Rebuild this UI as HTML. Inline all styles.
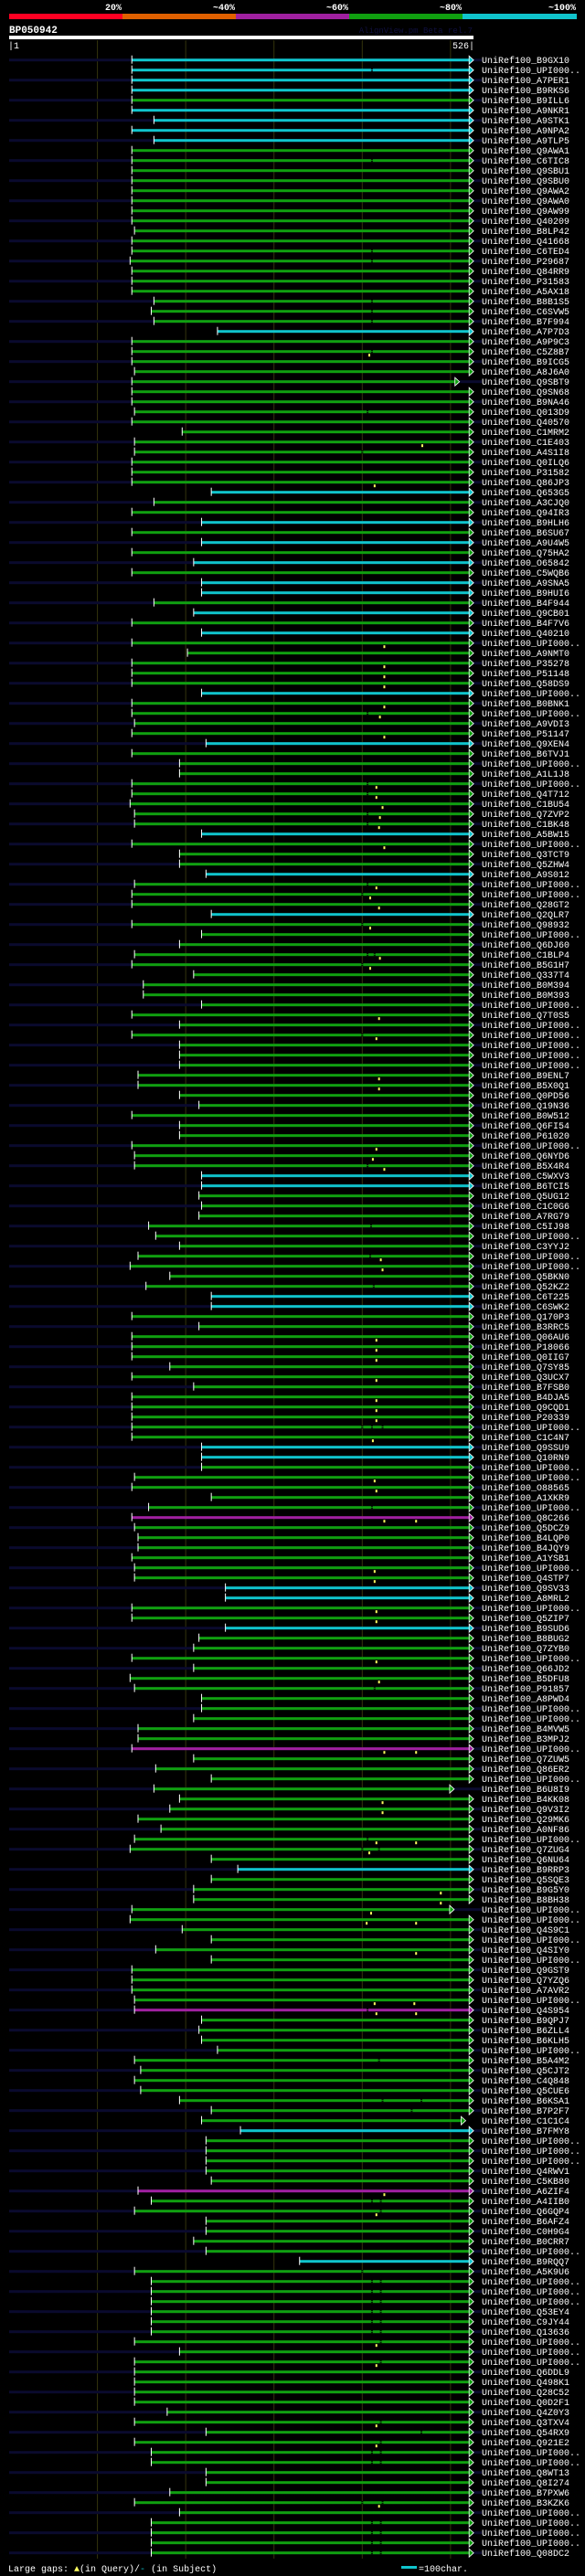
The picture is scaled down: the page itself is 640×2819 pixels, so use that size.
<!DOCTYPE html>
<html><head><meta charset="utf-8"><title>BP050942 alignment</title>
<style>
html,body{margin:0;padding:0;background:#000;}
body{width:640px;height:2819px;overflow:hidden;}
svg{display:block;}
text{font-family:"Liberation Mono",monospace;}
</style></head>
<body>
<svg id="chart" width="640" height="2819" viewBox="0 0 640 2819" xmlns="http://www.w3.org/2000/svg">
  <rect x="0" y="0" width="640" height="2819" fill="#000"/>
  <g>
    <rect x="10" y="15" width="124" height="6" fill="#ff0022"/>
    <rect x="134" y="15" width="124" height="6" fill="#e06000"/>
    <rect x="258" y="15" width="124" height="6" fill="#a020a0"/>
    <rect x="382" y="15" width="124" height="6" fill="#10a010"/>
    <rect x="506" y="15" width="125" height="6" fill="#10c4cc"/>
    <g font-size="10" font-weight="bold" fill="#fff" text-anchor="end">
      <text x="133" y="11">20%</text>
      <text x="257" y="11">~40%</text>
      <text x="381" y="11">~60%</text>
      <text x="505" y="11">~80%</text>
      <text x="630" y="11">~100%</text>
    </g>
  </g>
  <text x="10" y="36" font-size="11" font-weight="bold" fill="#fff">BP050942</text>
  <text x="517" y="36" font-size="9" fill="#101040" text-anchor="end">AlignView.pm Beta rel.7</text>
  <rect x="10" y="39" width="508" height="4" fill="#fff"/>
  <text x="9" y="53" font-size="10" fill="#fff">|1</text>
  <text x="519" y="53" font-size="10" fill="#fff" text-anchor="end">526|</text>
  <g id="grid"></g>
  <g id="rows"></g>
  <g>
    <text x="9" y="2814" font-size="10" fill="#fff">Large gaps: <tspan fill="#ffff60">▲</tspan>(in Query)/<tspan fill="#10c4cc">-</tspan> (in Subject)</text>
    <rect x="439" y="2808" width="17" height="3" fill="#10c4cc"/>
    <text x="458" y="2814" font-size="10" fill="#fff">=100char.</text>
  </g>
</svg>
<script>
const queryLength = 526;
const gridTicks = [100, 200, 300, 400, 500];
const names = ["B9GX10","UPI000..","A7PER1","B9RKS6","B9ILL6","A9NKR1","A9STK1","A9NPA2","A9TLP5","Q9AWA1",
"C6TIC8","Q9SBU1","Q9SBU0","Q9AWA2","Q9AWA0","Q9AW99","Q40209","B8LP42","Q41668","C6TED4",
"P29687","Q84RR9","P31583","A5AX18","B8B1S5","C6SVW5","B7F994","A7P7D3","A9P9C3","C5Z8B7",
"B9ICG5","A8J6A0","Q9SBT9","Q9SN68","B9NA46","Q013D9","Q40570","C1MRM2","C1E403","A4S1I8",
"Q0ILQ6","P31582","Q86JP3","Q653G5","A3CJQ0","Q94IR3","B9HLH6","B6SU67","A9U4W5","Q75HA2",
"O65842","C5WQB6","A9SNA5","B9HUI6","B4F944","Q9CB01","B4F7V6","Q40210","UPI000..","A9NMT0",
"P35278","P51148","Q58DS9","UPI000..","B0BNK1","UPI000..","A9VDI3","P51147","Q9XEN4","B6TVJ1",
"UPI000..","A1L1J8","UPI000..","Q4T712","C1BU54","Q7ZVP2","C1BK48","A5BW15","UPI000..","Q3TCT9",
"Q5ZHW4","A9S012","UPI000..","UPI000..","Q28GT2","Q2QLR7","Q98932","UPI000..","Q6DJ60","C1BLP4",
"B5G1H7","Q337T4","B0M394","B0M393","UPI000..","Q7T0S5","UPI000..","UPI000..","UPI000..","UPI000..",
"UPI000..","B9ENL7","B5X0Q1","Q0PD56","Q19N36","B0W512","Q6FI54","P61020","UPI000..","Q6NYD6",
"B5X4R4","C5WXV3","B6TCI5","Q5UG12","C1C0G6","A7RG79","C5IJ98","UPI000..","C3YYJ2","UPI000..",
"UPI000..","Q5BKN0","Q52KZ2","C6T225","C6SWK2","Q170P3","B3RRC5","Q06AU6","P18066","Q0IIG7",
"Q7SY85","Q3UCX7","B7FSB0","B4DJA5","Q9CQD1","P20339","UPI000..","C1C4N7","Q9SSU9","Q10RN9",
"UPI000..","UPI000..","O88565","A1XKR9","UPI000..","Q8C266","Q5DCZ9","B4LQP0","B4JQY9","A1YSB1",
"UPI000..","Q4STP7","Q9SV33","A8MRL2","UPI000..","Q5ZIP7","B9SUD6","B8BUG2","Q7ZYB0","UPI000..",
"Q66JD2","B5DFU8","P91857","A8PWD4","UPI000..","UPI000..","B4MVW5","B3MPJ2","UPI000..","Q7ZUW5",
"Q86ER2","UPI000..","B6U8I9","B4KK08","Q9V3I2","Q29MK6","A0NF86","UPI000..","Q7ZUG4","Q6NU64",
"B9RRP3","Q5SQE3","B9G5Y0","B8BH38","UPI000..","UPI000..","Q4S9C1","UPI000..","Q4SIY0","UPI000..",
"Q9GST9","Q7YZQ6","A7AVR2","UPI000..","Q4S954","B9QPJ7","B6ZLL4","B6KLH5","UPI000..","B5A4M2",
"Q5CJT2","C4Q848","Q5CUE6","B6KSA1","B7P2F7","C1C1C4","B7FMY8","UPI000..","UPI000..","UPI000..",
"Q4RWV1","C5KB80","A6ZIF4","A4IIB0","Q6GQP4","B6AFZ4","C0H9G4","B0CRR7","UPI000..","B9RQQ7",
"A5K9U6","UPI000..","UPI000..","UPI000..","Q53EY4","C9JY44","Q13636","UPI000..","UPI000..","UPI000..",
"Q6DDL9","Q498K1","Q28C52","Q0D2F1","Q4Z0Y3","Q3TXV4","Q54RX9","Q921E2","UPI000..","UPI000..",
"Q8WT13","Q8I274","B7PXW6","B3KZK6","UPI000..","UPI000..","UPI000..","UPI000..","Q08DC2"];
const starts = [139,139,139,139,139,139,164,139,164,139,
139,139,139,139,139,139,139,142,139,139,
137,139,139,139,164,161,164,236,139,139,
139,142,139,139,139,142,139,196,142,142,
139,139,139,229,164,139,218,139,218,139,
209,139,218,218,164,209,139,218,139,202,
139,139,139,218,139,139,142,139,223,139,
193,193,139,139,137,142,142,218,139,193,
193,223,142,139,139,229,139,218,193,142,
139,209,152,152,218,139,193,139,193,193,
193,146,146,193,215,139,193,193,139,142,
142,218,218,215,218,215,158,166,193,146,
137,182,155,229,229,139,215,139,139,139,
182,139,209,139,139,139,139,139,218,218,
218,142,139,229,158,139,142,146,146,139,
142,142,245,245,139,139,245,215,209,139,
209,137,142,218,218,209,146,146,139,209,
166,229,164,193,182,146,172,142,137,229,
259,229,209,209,139,137,196,229,166,229,
139,139,139,142,142,218,215,218,236,142,
149,142,149,193,229,218,262,223,223,223,
223,229,146,161,142,223,223,209,223,329,
142,161,161,161,161,161,161,142,193,142,
142,142,142,142,179,142,223,142,161,161,
223,223,182,142,193,161,161,161,161];
const cyanRows = [0,1,2,3,5,6,7,8,27,43,46,48,50,52,53,55,57,63,68,77,81,85,111,112,123,124,138,139,152,153,156,180,206,219];
const magentaRows = [145,168,194,212];
const endOverrides = {32:505, 172:499, 184:499, 205:512};
const queryGaps = {29:[408],38:[468],42:[414],58:[425],60:[425],61:[425],62:[425],64:[425],65:[420],67:[425],
72:[416],73:[416],74:[423],75:[420],76:[419],78:[425],82:[416],83:[409],84:[419],86:[409],89:[420],90:[409],
95:[419],97:[416],101:[419],102:[419],108:[416],109:[412],110:[425],119:[421],120:[423],127:[416],128:[416],
129:[416],131:[416],133:[416],134:[416],135:[416],137:[412],141:[414],142:[416],145:[425,461],150:[414],
151:[414],154:[416],155:[416],159:[416],161:[419],168:[425,461],173:[423],174:[423],177:[416,461],178:[408],
182:[489],183:[489],184:[410],185:[405,461],188:[461],193:[414,459],194:[416,461],212:[425],214:[416],
227:[416],229:[416],235:[416],237:[416],243:[419]};
const subjectGaps = {1:[411],10:[411],19:[411],20:[411],24:[411],25:[411],26:[411],29:[411],35:[406],39:[400],
65:[406],72:[406],73:[406],75:[406],76:[406],82:[406],83:[400],86:[400],89:[406,414],90:[400],97:[400],
110:[406],116:[410],119:[409],122:[413],136:[400,411,423],144:[411],162:[414],177:[406],178:[400,419],
194:[406],199:[419],203:[423,467],204:[456],213:[411,421],214:[421],220:[400],221:[411,421],222:[411,421],
223:[411,421],224:[411,421],225:[411,421],226:[411,421],227:[421],229:[421],235:[421],236:[467],237:[421],
238:[411,421],239:[411,421],243:[400,423],245:[411,421],246:[411,421],247:[411,421],248:[411,421]};
const defaultEnd = 521;

const NS = "http://www.w3.org/2000/svg";
const x0 = 10, x1 = 518;
function xScale(p){ return x0 + p * (x1 - x0) / queryLength; }
const rowTop = 65.7, rowPitch = 11;
function yScale(i){ return rowTop + i * rowPitch; }
function rowColor(i){
  if (cyanRows.indexOf(i) >= 0) return "#10c4cc";
  if (magentaRows.indexOf(i) >= 0) return "#a020a0";
  return "#10a010";
}
function mk(tag, attrs, parent){
  const e = document.createElementNS(NS, tag);
  for (const k in attrs) e.setAttribute(k, attrs[k]);
  parent.appendChild(e);
  return e;
}
const grid = document.getElementById('grid');
gridTicks.forEach(t => {
  const l = mk('line', {x1:xScale(t), x2:xScale(t), y1:44, y2:2800, stroke:"#34340c", "stroke-width":1}, grid);
  
  
});
const rowsG = document.getElementById('rows');
names.forEach((nm, i) => {
  const y = yScale(i);
  const g = mk('g', {}, rowsG);
  
  
  if (i % 2 === 0) {
    const s = mk('rect', {x:x0, y:y - 1.5, width:527 - x0, height:3, fill:"#0a0a2e"}, g);
    
    
  }
  const st = starts[i];
  const en = endOverrides[i] !== undefined ? endOverrides[i] : defaultEnd;
  const col = rowColor(i);
  const xa = xScale(st), xb = xScale(en);
  const bar = mk('rect', {x:xa, y:y - 1.5, width:xb - xa, height:3, fill:col}, g);
  
  
  (subjectGaps[i] || []).forEach(p => {
    const gx = xScale(p);
    const gp = mk('rect', {x:gx - 1, y:y - 1.5, width:2, height:3, fill:"#000"}, g);
    
    
    mk('rect', {x:gx - 1, y:y - 0.5, width:2, height:1, fill:col}, g);
  });
  const tick = mk('rect', {x:xa - 0.5, y:y - 5, width:1, height:9, fill:"#fff"}, g);
  
  
  const arr = mk('polygon', {points:(xb) + "," + (y - 4.5) + " " + (xb + 5) + "," + y + " " + (xb) + "," + (y + 4.5), fill:col, stroke:"#fff", "stroke-width":0.8}, g);
  
  
  (queryGaps[i] || []).forEach(p => {
    const qx = xScale(p);
    const m = mk('rect', {x:qx - 1, y:y + 2.5, width:2, height:3, fill:"#ffff60"}, g);
    
    
  });
  const t = mk('text', {x:527, y:y + 3.5, "font-size":10, fill:"#fff"}, g);
  t.textContent = "UniRef100_" + nm;
  
  
});
</script>
</body></html>
